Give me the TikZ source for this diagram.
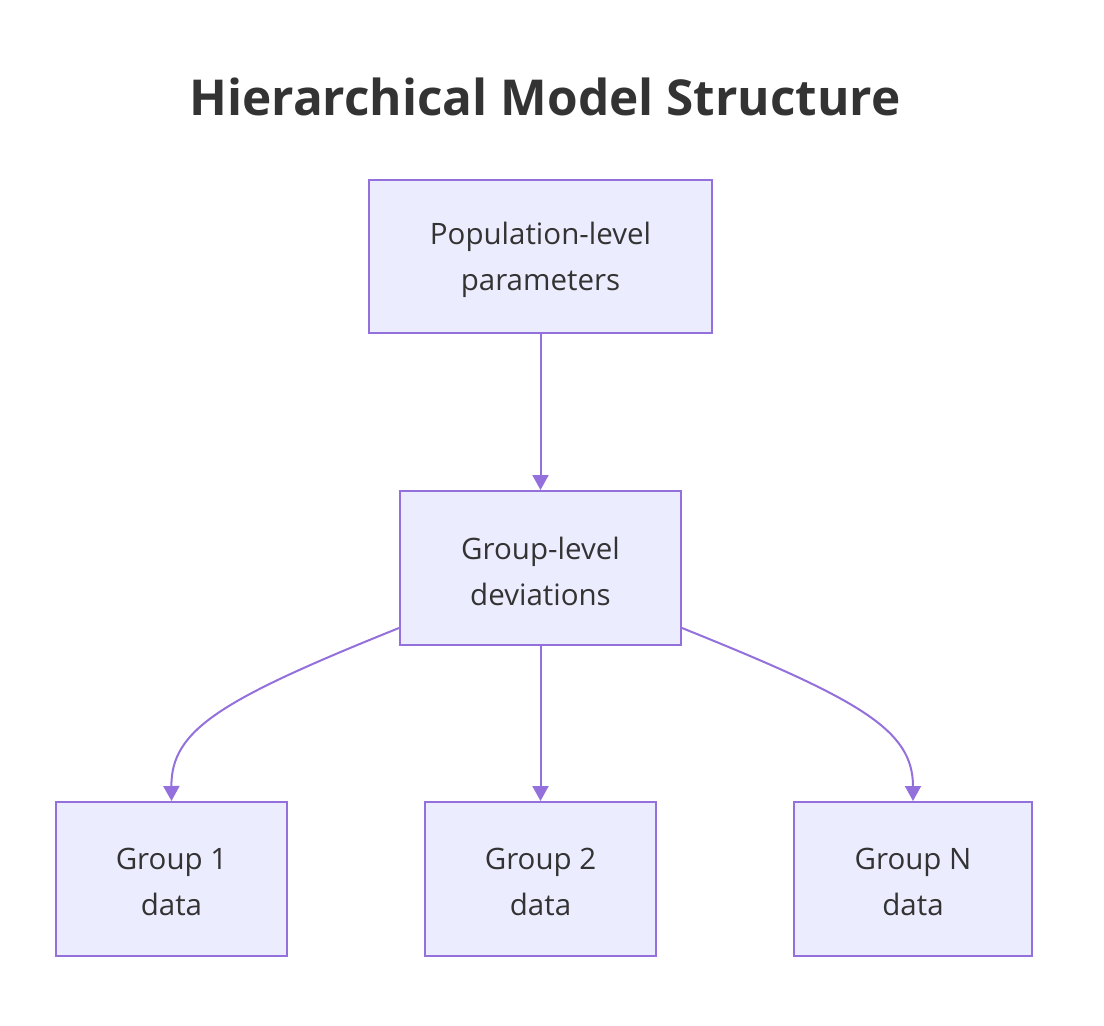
\documentclass[tikz,border=0pt]{standalone}
\usepackage{fontspec}
\setmainfont{Open Sans}
\usetikzlibrary{arrows.meta}
\definecolor{nodefill}{HTML}{ECECFF}
\definecolor{nodeline}{HTML}{9370DB}
\definecolor{txt}{HTML}{333333}
\begin{document}
\begin{tikzpicture}[x=1pt,y=-1pt,
  box/.style={draw=nodeline, fill=nodefill, line width=2pt, inner sep=0pt,
    text=txt, align=center, font=\fontsize{29.5}{46}\selectfont},
  lbl/.style={text=txt, align=center, font=\fontsize{29.5}{46}\selectfont},
  edge/.style={draw=nodeline, line width=2pt, -{Triangle[length=15pt,width=16pt]}}]
\useasboundingbox (0,0) rectangle (1104,1026);
\node[font=\bfseries\fontsize{49.5}{60}\selectfont, text=txt] (title) at (545,97) {Hierarchical Model Structure};
\node[box, minimum width=343pt, minimum height=153pt] (pop) at (540.5,256.5) {};
\node[box, minimum width=281pt, minimum height=154pt] (grp) at (540.5,568) {};
\node[box, minimum width=231pt, minimum height=154pt] (g1) at (171.5,879) {};
\node[box, minimum width=231pt, minimum height=154pt] (g2) at (540.5,879) {};
\node[box, minimum width=238pt, minimum height=154pt] (gn) at (913,879) {};
\node[lbl] (popt) at ([yshift=-3pt]pop.center) {Population-level\\parameters};
\node[lbl] (grpt) at ([yshift=-3pt]grp.center) {Group-level\\deviations};
\node[lbl] (g1t) at ([yshift=-3pt]g1.center) {Group 1\\data};
\node[lbl] (g2t) at ([yshift=-3pt]g2.center) {Group 2\\data};
\node[lbl] (gnt) at ([yshift=-3pt]gn.center) {Group N\\data};
\draw[edge] (pop.south) -- (grp.north);
\draw[edge] (grp.south) -- (g2.north);
\draw[edge] ([yshift=-60pt]grp.west) .. controls (220,700) and (171,730) .. (g1.north);
\draw[edge] ([yshift=-60pt]grp.east) .. controls (861,700) and (913,730) .. (gn.north);
\end{tikzpicture}
\end{document}
